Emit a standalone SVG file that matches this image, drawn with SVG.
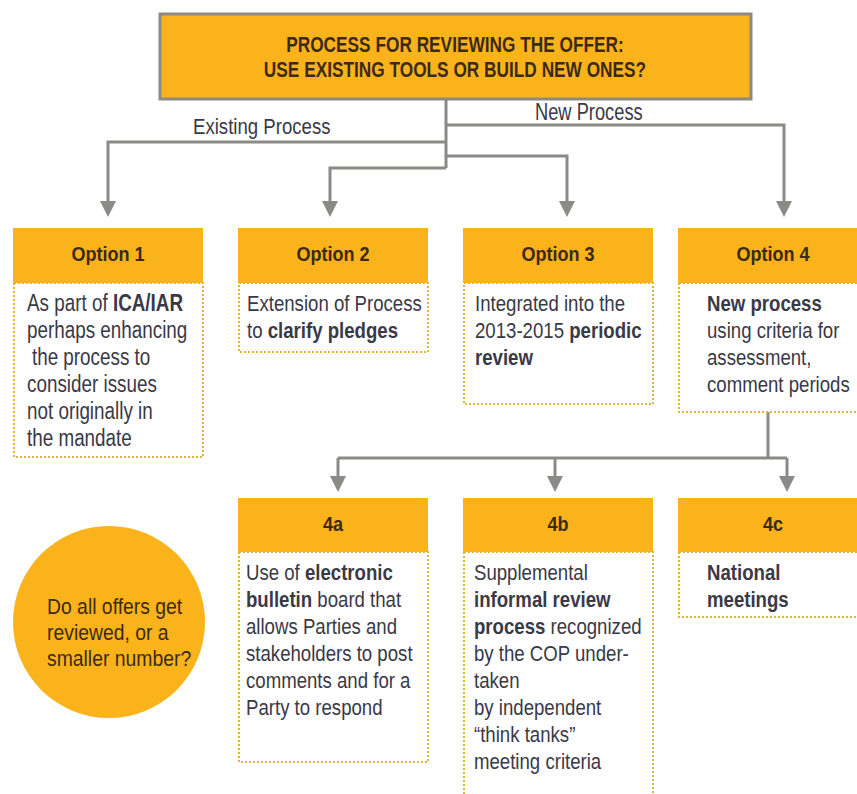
<svg xmlns="http://www.w3.org/2000/svg" width="857" height="794" viewBox="0 0 857 794">
<defs>
<style>
.hd{fill:#FBB31B}
.bd{fill:#fff;stroke:#E3B43C;stroke-width:2;stroke-dasharray:2 2}
.ht{font-family:"Liberation Sans",Arial,sans-serif;font-weight:bold;font-size:21px;fill:#3B2A16;text-anchor:middle}
.tt{font-family:"Liberation Sans",Arial,sans-serif;font-weight:bold;font-size:22px;fill:#3B2A16;text-anchor:middle}
.tx{font-family:"Liberation Sans",Arial,sans-serif;font-size:23px;fill:#3A3946}
.q{font-family:"Liberation Sans",Arial,sans-serif;font-size:22px;fill:#3B2A16}
.b{font-weight:bold}
.cn{fill:none;stroke:#8A8A86;stroke-width:3}
</style>
<marker id="ah" markerUnits="userSpaceOnUse" markerWidth="16" markerHeight="16" refX="4" refY="8" orient="auto" viewBox="0 0 16 16">
<path d="M0,0 L16,8 L0,16 Z" fill="#8A8A86"/>
</marker>
</defs>
<rect width="857" height="794" fill="#fff"/>

<g id="title">
<rect x="160" y="14" width="591" height="85" fill="#FBB31B" stroke="#8C8A82" stroke-width="3"/>
<text class="tt" transform="translate(455,0) scale(0.785,1)" x="0" y="52">PROCESS FOR REVIEWING THE OFFER:</text>
<text class="tt" transform="translate(455,0) scale(0.785,1)" x="0" y="77">USE EXISTING TOOLS OR BUILD NEW ONES?</text>
</g>

<g id="connectors">
<path class="cn" d="M446,99 V168"/>
<path class="cn" d="M446,125 H784 V205" marker-end="url(#ah)"/>
<path class="cn" d="M446,142 H108 V205" marker-end="url(#ah)"/>
<path class="cn" d="M446,156 H567 V205" marker-end="url(#ah)"/>
<path class="cn" d="M446,168 H330 V205" marker-end="url(#ah)"/>
<path class="cn" d="M768,412 V458"/>
<path class="cn" d="M338,458 H787"/>
<path class="cn" d="M338,458 V480" marker-end="url(#ah)"/>
<path class="cn" d="M555,458 V480" marker-end="url(#ah)"/>
<path class="cn" d="M787,458 V480" marker-end="url(#ah)"/>
<text class="tx" transform="translate(193,0) scale(0.81,1)" x="0" y="134">Existing Process</text>
<text class="tx" transform="translate(535,0) scale(0.795,1)" x="0" y="120">New Process</text>
</g>

<g id="option1">
<rect class="bd" x="14" y="283" width="189" height="174"/>
<rect class="hd" x="13" y="228" width="190" height="55"/>
<text class="ht" transform="translate(108,0) scale(0.86,1)" x="0" y="261">Option 1</text>
<g transform="translate(27,0) scale(0.82,1)">
<text class="tx" x="0" y="311">As part of <tspan class="b">ICA/IAR</tspan></text>
<text class="tx" x="0" y="338">perhaps enhancing</text>
<text class="tx" x="6" y="365">the process to</text>
<text class="tx" x="0" y="392">consider issues</text>
<text class="tx" x="0" y="419">not originally in</text>
<text class="tx" x="0" y="446">the mandate</text>
</g>
</g>

<g id="option2">
<rect class="bd" x="239" y="283" width="189" height="69"/>
<rect class="hd" x="238" y="228" width="190" height="55"/>
<text class="ht" transform="translate(333,0) scale(0.86,1)" x="0" y="261">Option 2</text>
<g transform="translate(247,0) scale(0.81,1)">
<text class="tx" x="0" y="311">Extension of Process</text>
<text class="tx" x="0" y="338">to <tspan class="b">clarify pledges</tspan></text>
</g>
</g>

<g id="option3">
<rect class="bd" x="464" y="283" width="189" height="121"/>
<rect class="hd" x="463" y="228" width="190" height="55"/>
<text class="ht" transform="translate(558,0) scale(0.86,1)" x="0" y="261">Option 3</text>
<g transform="translate(475,0) scale(0.81,1)">
<text class="tx" x="0" y="311">Integrated into the</text>
<text class="tx" x="0" y="338">2013-2015 <tspan class="b">periodic</tspan></text>
<text class="tx b" x="0" y="365">review</text>
</g>
</g>

<g id="option4">
<rect class="bd" x="679" y="283" width="200" height="129"/>
<rect class="hd" x="678" y="228" width="190" height="55"/>
<text class="ht" transform="translate(773,0) scale(0.86,1)" x="0" y="261">Option 4</text>
<g transform="translate(707,0) scale(0.81,1)">
<text class="tx b" x="0" y="311">New process</text>
<text class="tx" x="0" y="338">using criteria for</text>
<text class="tx" x="0" y="365">assessment,</text>
<text class="tx" x="0" y="392">comment periods</text>
</g>
</g>

<g id="opt4a">
<rect class="bd" x="239" y="552" width="189" height="210"/>
<rect class="hd" x="238" y="498" width="190" height="54"/>
<text class="ht" transform="translate(333,0) scale(0.86,1)" x="0" y="531">4a</text>
<g transform="translate(246,0) scale(0.81,1)">
<text class="tx" x="0" y="580">Use of <tspan class="b">electronic</tspan></text>
<text class="tx" x="0" y="607"><tspan class="b">bulletin</tspan> board that</text>
<text class="tx" x="0" y="634">allows Parties and</text>
<text class="tx" x="0" y="661">stakeholders to post</text>
<text class="tx" x="0" y="688">comments and for a</text>
<text class="tx" x="0" y="715">Party to respond</text>
</g>
</g>

<g id="opt4b">
<rect class="bd" x="464" y="552" width="189" height="260"/>
<rect class="hd" x="463" y="498" width="190" height="54"/>
<text class="ht" transform="translate(558,0) scale(0.86,1)" x="0" y="531">4b</text>
<g transform="translate(474,0) scale(0.81,1)">
<text class="tx" x="0" y="580">Supplemental</text>
<text class="tx b" x="0" y="607">informal review</text>
<text class="tx" x="0" y="634"><tspan class="b">process</tspan> recognized</text>
<text class="tx" x="0" y="661">by the COP under-</text>
<text class="tx" x="0" y="688">taken</text>
<text class="tx" x="0" y="715">by independent</text>
<text class="tx" x="0" y="742">“think tanks”</text>
<text class="tx" x="0" y="769">meeting criteria</text>
</g>
</g>

<g id="opt4c">
<rect class="bd" x="679" y="552" width="200" height="65"/>
<rect class="hd" x="678" y="498" width="190" height="54"/>
<text class="ht" transform="translate(773,0) scale(0.86,1)" x="0" y="531">4c</text>
<g transform="translate(707,0) scale(0.81,1)">
<text class="tx b" x="0" y="580">National</text>
<text class="tx b" x="0" y="607">meetings</text>
</g>
</g>

<g id="question">
<circle cx="109" cy="622" r="96" fill="#FBB31B"/>
<g transform="translate(47,0) scale(0.88,1)">
<text class="q" x="0" y="614">Do all offers get</text>
<text class="q" x="0" y="640">reviewed, or a</text>
<text class="q" x="0" y="666">smaller number?</text>
</g>
</g>
</svg>
